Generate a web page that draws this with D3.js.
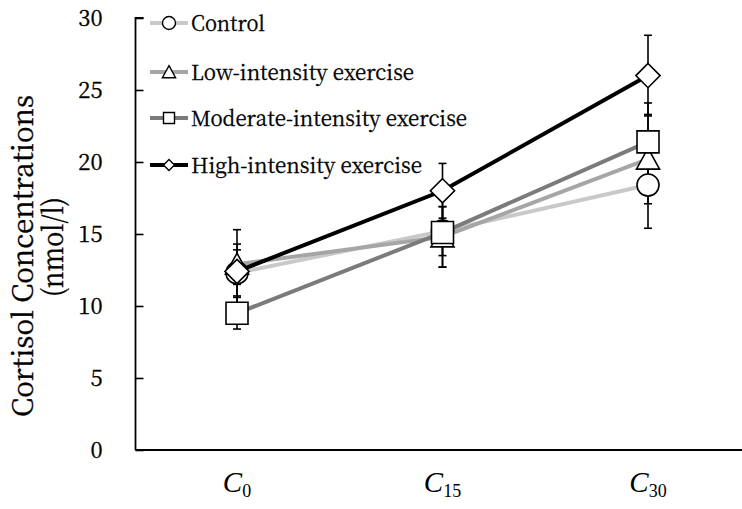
<!DOCTYPE html>
<html><head><meta charset="utf-8">
<script src="https://cdn.jsdelivr.net/npm/d3@7"></script>
<style>body{margin:0;background:#fff}svg{display:block}</style>
</head><body>
<svg id="c" width="742" height="509"></svg>
<script>
const categories = ["0", "15", "30"];
const seriesNames = ["Control", "Low-intensity exercise", "Moderate-intensity exercise", "High-intensity exercise"];
const controlValues = [12.3, 15.2, 18.4];
const controlErrors = [1.6, 1.7, 3.0];
const lowValues = [12.9, 14.8, 20.2];
const lowErrors = [1.4, 2.1, 3.1];
const moderateValues = [9.5, 15.1, 21.4];
const moderateErrors = [1.1, 2.4, 2.7];
const highValues = [12.4, 18.0, 26.0];
const highErrors = [2.9, 1.9, 2.8];
const yTicks = [0, 5, 10, 15, 20, 25, 30];

const series = [
  {name: seriesNames[0], values: controlValues, errors: controlErrors, color: "#c9c9c9", shape: "circle", lw: 74},
  {name: seriesNames[1], values: lowValues, errors: lowErrors, color: "#a6a6a6", shape: "triangle", lw: 223},
  {name: seriesNames[2], values: moderateValues, errors: moderateErrors, color: "#7b7b7b", shape: "square", lw: 276},
  {name: seriesNames[3], values: highValues, errors: highErrors, color: "#000000", shape: "diamond", lw: 231}
];

const svg = d3.select("#c");
const serif = "'Noto Serif CJK JP'";
const latin = "'Liberation Serif'";
const x = d3.scalePoint().domain(categories).range([237, 648]);
const y = d3.scaleLinear().domain([0, 30]).range([450, 18]);

// axes
svg.append("line").attr("x1", 135.5).attr("x2", 742).attr("y1", y(0)).attr("y2", y(0))
  .attr("stroke", "#000").attr("stroke-width", 1.8);
const yAxis = svg.append("g").attr("transform", "translate(135.5,0)")
  .call(d3.axisRight(y).tickValues(yTicks).tickSize(8).tickFormat(d3.format("d")));
yAxis.attr("font-family", serif);
yAxis.select(".domain").attr("stroke-width", 1.8).attr("d", `M8,${y(30)}H0V${y(0)}`);
yAxis.selectAll(".tick line").attr("stroke-width", 1.6);
yAxis.selectAll(".tick text").attr("text-anchor", "end").attr("x", -33).attr("dy", "0.36em")
  .attr("font-family", serif).attr("font-size", 22).attr("fill", "#000")
  .attr("stroke", "#000").attr("stroke-width", 0.35);

// y title
svg.append("text").attr("transform", "translate(33,256) rotate(-90)")
  .attr("text-anchor", "middle").attr("font-family", serif).attr("font-size", 28).attr("fill", "#000")
  .attr("stroke", "#000").attr("stroke-width", 0.4)
  .attr("textLength", 322).attr("lengthAdjust", "spacingAndGlyphs")
  .text("Cortisol Concentrations");
svg.append("text").attr("transform", "translate(63,247) rotate(-90)")
  .attr("text-anchor", "middle").attr("font-family", serif).attr("font-size", 28).attr("fill", "#000")
  .attr("stroke", "#000").attr("stroke-width", 0.4)
  .attr("textLength", 100).attr("lengthAdjust", "spacingAndGlyphs")
  .text("(nmol/l)");

// x labels
categories.forEach(c => {
  const t = svg.append("text").attr("x", x(c)).attr("y", 492).attr("text-anchor", "middle")
    .attr("font-family", latin).attr("fill", "#000");
  t.append("tspan").attr("font-style", "italic").attr("font-size", 29).text("C");
  t.append("tspan").attr("font-size", 18).attr("dy", 5).text(c);
});

// symbol paths
function shapePath(shape, s) {
  if (shape === "circle") { const r = s; return `M${-r},0A${r},${r} 0 1,0 ${r},0A${r},${r} 0 1,0 ${-r},0Z`; }
  if (shape === "square") return `M${-s},${-s}H${s}V${s}H${-s}Z`;
  if (shape === "triangle") return `M0,${-s*1.05}L${s*1.1},${s*0.95}H${-s*1.1}Z`;
  if (shape === "diamond") return `M0,${-s*1.1}L${s*1.1},0L0,${s*1.1}L${-s*1.1},0Z`;
}
const sizes = {circle: 11, square: 11, triangle: 10.5, diamond: 11};

const line = d3.line().x((d, i) => x(categories[i])).y(d => y(d));
series.forEach(s => {
  svg.append("path").attr("d", line(s.values)).attr("fill", "none")
    .attr("stroke", s.color).attr("stroke-width", 4);
});
// error bars
series.forEach(s => {
  s.values.forEach((v, i) => {
    const cx = x(categories[i]);
    const g = svg.append("g").attr("stroke", "#000").attr("stroke-width", 1.6);
    g.append("line").attr("x1", cx).attr("x2", cx).attr("y1", y(v - s.errors[i])).attr("y2", y(v + s.errors[i]));
    [v - s.errors[i], v + s.errors[i]].forEach(e => {
      g.append("line").attr("x1", cx - 4).attr("x2", cx + 4).attr("y1", y(e)).attr("y2", y(e));
    });
  });
});
// markers
series.forEach(s => {
  s.values.forEach((v, i) => {
    svg.append("path").attr("d", shapePath(s.shape, sizes[s.shape]))
      .attr("transform", `translate(${x(categories[i])},${y(v)})`)
      .attr("fill", "#fff").attr("stroke", "#000").attr("stroke-width", 1.6);
  });
});

// legend
const legendY = [23, 72, 118, 165];
const legendSizes = {circle: 6.5, square: 5.5, triangle: 6, diamond: 5};
series.forEach((s, k) => {
  const g = svg.append("g").attr("transform", `translate(0,${legendY[k]})`);
  g.append("line").attr("x1", 150).attr("x2", 188).attr("y1", 0).attr("y2", 0)
    .attr("stroke", s.color).attr("stroke-width", 4);
  g.append("path").attr("d", shapePath(s.shape, legendSizes[s.shape])).attr("transform", "translate(169,0)")
    .attr("fill", "#fff").attr("stroke", "#000").attr("stroke-width", 1.4);
  g.append("text").attr("x", 191).attr("y", 0).attr("dy", "0.36em")
    .attr("font-family", serif).attr("font-size", 21).attr("fill", "#000")
    .attr("stroke", "#000").attr("stroke-width", 0.3)
    .attr("textLength", s.lw).attr("lengthAdjust", "spacingAndGlyphs").text(s.name);
});
</script>
</body></html>
